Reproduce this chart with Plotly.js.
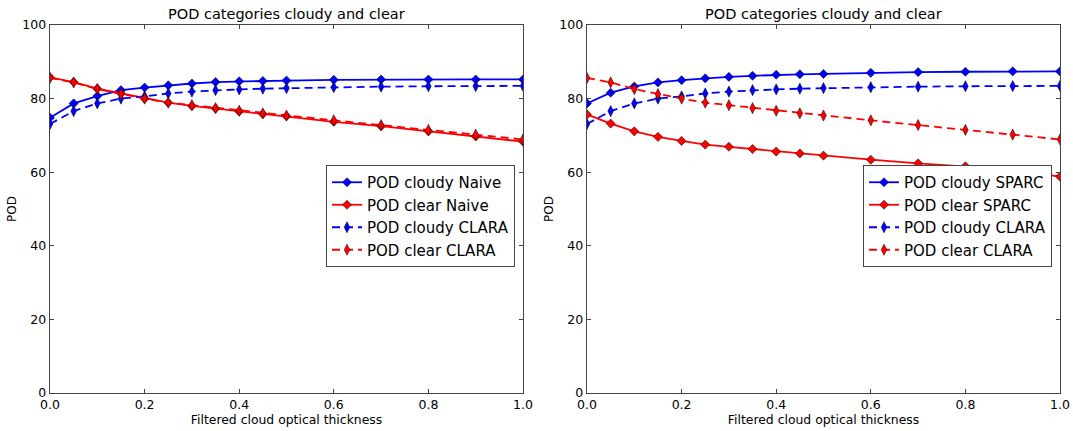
<!DOCTYPE html>
<html>
<head>
<meta charset="utf-8">
<script src="https://cdn.plot.ly/plotly-3.0.1.min.js"></script>
<style>html,body{margin:0;padding:0;background:#fff;}#chart{width:1073px;height:431px;}</style>
</head>
<body>
<div id="chart"></div>
<script>
const thickness = [0, 0.05, 0.1, 0.15, 0.2, 0.25, 0.3, 0.35, 0.4, 0.45, 0.5, 0.6, 0.7, 0.8, 0.9, 1.0];

const podCloudyNaive = [74.8, 78.7, 80.7, 82.3, 83.0, 83.6, 84.1, 84.5, 84.7, 84.8, 84.9, 85.1, 85.2, 85.2, 85.2, 85.2];
const podClearNaive  = [85.8, 84.5, 82.7, 81.4, 80.0, 78.9, 78.0, 77.3, 76.5, 75.8, 75.2, 73.7, 72.5, 71.1, 69.7, 68.3];
const podCloudyClara = [73.1, 76.6, 78.7, 80.0, 80.6, 81.4, 81.9, 82.3, 82.5, 82.7, 82.85, 83.1, 83.25, 83.35, 83.4, 83.45];
const podClearClara  = [85.6, 84.4, 82.6, 81.2, 80.0, 78.9, 78.2, 77.4, 76.7, 76.0, 75.4, 74.1, 72.8, 71.5, 70.2, 68.9];
const podCloudySparc = [78.7, 81.6, 83.3, 84.4, 85.0, 85.5, 85.9, 86.2, 86.5, 86.6, 86.7, 87.0, 87.2, 87.3, 87.4, 87.4];
const podClearSparc  = [75.7, 73.2, 71.1, 69.6, 68.5, 67.5, 66.9, 66.3, 65.6, 65.1, 64.5, 63.4, 62.4, 61.6, 60.7, 58.8];

const leftNames  = ['POD cloudy Naive', 'POD clear Naive', 'POD cloudy CLARA', 'POD clear CLARA'];
const rightNames = ['POD cloudy SPARC', 'POD clear SPARC', 'POD cloudy CLARA', 'POD clear CLARA'];
const subplotTitle = 'POD categories cloudy and clear';
const xTitle = 'Filtered cloud optical thickness';
const yTitle = 'POD';

const BLUE = '#0000ff', RED = '#ff0000';
const DASH = '8px,5px';

function mk(y, name, color, dashed, xa, ya, legend) {
  return {
    x: thickness, y: y, name: name, type: 'scatter', mode: 'lines+markers',
    xaxis: xa, yaxis: ya, legend: legend,
    line: {color: color, width: 1.8, dash: dashed ? DASH : 'solid'},
    marker: {symbol: dashed ? 'diamond-tall' : 'diamond', size: dashed ? 8 : 7,
             color: color, line: {color: '#000', width: 0.5}}
  };
}

const traces = [
  mk(podCloudyNaive, leftNames[0], BLUE, false, 'x', 'y', 'legend'),
  mk(podClearNaive,  leftNames[1], RED,  false, 'x', 'y', 'legend'),
  mk(podCloudyClara, leftNames[2], BLUE, true,  'x', 'y', 'legend'),
  mk(podClearClara,  leftNames[3], RED,  true,  'x', 'y', 'legend'),
  mk(podCloudySparc, rightNames[0], BLUE, false, 'x2', 'y2', 'legend2'),
  mk(podClearSparc,  rightNames[1], RED,  false, 'x2', 'y2', 'legend2'),
  mk(podCloudyClara, rightNames[2], BLUE, true,  'x2', 'y2', 'legend2'),
  mk(podClearClara,  rightNames[3], RED,  true,  'x2', 'y2', 'legend2')
];

const FONT = 'DejaVu Sans, sans-serif';
const ML = 50, MR = 13, MT = 25, MB = 38, W = 1073, H = 431;
const PW = W - ML - MR, PH = H - MT - MB;
function px2x(px) { return (px - ML) / PW; }
function px2y(py) { return 1 - (py - MT) / PH; }

function xax(domain, anchor) {
  return {
    domain: domain, anchor: anchor, range: [0, 1], dtick: 0.2, tick0: 0, tickformat: '.1f',
    ticks: 'inside', ticklen: 4, tickcolor: '#444', tickwidth: 1, mirror: 'ticks',
    showline: true, linecolor: '#444', linewidth: 1.3, showgrid: false, zeroline: false,
    tickfont: {family: FONT, size: 12.5, color: '#000'},
    title: {text: xTitle, font: {family: FONT, size: 12.4, color: '#000'}, standoff: 1},
    automargin: false, fixedrange: true
  };
}
function yax(anchor) {
  return {
    domain: [0, 1], anchor: anchor, range: [0, 100], dtick: 20, tick0: 0,
    ticks: 'inside', ticklen: 4, tickcolor: '#444', tickwidth: 1, mirror: 'ticks',
    showline: true, linecolor: '#444', linewidth: 1.3, showgrid: false, zeroline: false,
    tickfont: {family: FONT, size: 12.5, color: '#000'},
    title: {text: yTitle, font: {family: FONT, size: 12, color: '#000'}, standoff: 3},
    automargin: false, fixedrange: true
  };
}
const legendStyle = {
  font: {family: FONT, size: 15, color: '#000'},
  bordercolor: '#444', borderwidth: 1, bgcolor: '#fff',
  yanchor: 'top', xanchor: 'right', tracegroupgap: 0, itemwidth: 30
};

const layout = {
  width: W, height: H,
  margin: {l: ML, r: MR, t: MT, b: MB},
  paper_bgcolor: '#fff', plot_bgcolor: '#fff',
  font: {family: FONT},
  xaxis: xax([0, px2x(523)], 'y'),
  yaxis: yax('x'),
  xaxis2: xax([px2x(587), 1], 'y2'),
  yaxis2: yax('x2'),
  legend: Object.assign({}, legendStyle, {x: px2x(515), y: px2y(165)}),
  legend2: Object.assign({}, legendStyle, {x: px2x(1052), y: px2y(165)}),
  annotations: [
    {text: subplotTitle, xref: 'x domain', yref: 'paper', x: 0.5, y: px2y(14), yanchor: 'middle', xanchor: 'center', showarrow: false, font: {family: FONT, size: 14.5, color: '#000'}},
    {text: subplotTitle, xref: 'x2 domain', yref: 'paper', x: 0.5, y: px2y(14), yanchor: 'middle', xanchor: 'center', showarrow: false, font: {family: FONT, size: 14.5, color: '#000'}}
  ],
  showlegend: true
};

Plotly.newPlot('chart', traces, layout, {displayModeBar: false, staticPlot: true});
</script>
</body>
</html>
